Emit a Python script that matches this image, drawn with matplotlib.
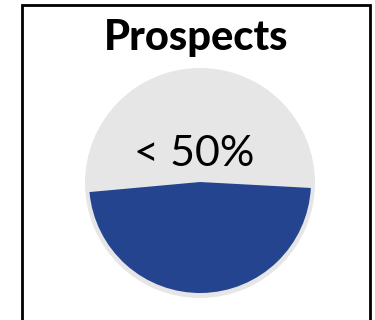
import matplotlib
matplotlib.use("Agg")
import matplotlib.pyplot as plt
from matplotlib.patches import Rectangle

# data
title = "Prospects"
label = "< 50%"
slice_names = ["Prospects", "Rest"]
slice_values = [47.7, 52.3]

blue = "#25448F"
grey = "#E6E6E6"

fig = plt.figure(figsize=(3.75, 3.2), dpi=100)
ax = fig.add_axes([0, 0, 1, 1])

# grey background disc
ax.pie([sum(slice_values)], colors=[grey], radius=115, center=(200, 137),
       frame=True, wedgeprops=dict(linewidth=0))
# blue share on top
ax.pie(slice_values, colors=[blue, "none"], radius=111, center=(200, 138),
       startangle=185.2, counterclock=True, frame=True,
       wedgeprops=dict(linewidth=0))
ax.set_xlim(0, 375)
ax.set_ylim(0, 320)
ax.set_aspect("equal")
ax.axis("off")

ax.text(196.5, 270, title, ha="center", va="baseline", family="Lato",
        fontweight="black", fontsize=30)
ax.text(194.5, 154, label, ha="center", va="baseline", family="Lato",
        fontsize=31)

# outer frame, open at the bottom edge of the image
fig.patches.append(Rectangle((22 / 375, -0.2), 347.5 / 375, 1.2 - 5 / 320,
                             transform=fig.transFigure, fill=False,
                             edgecolor="black", linewidth=2))

fig.savefig("out.png", dpi=100)
